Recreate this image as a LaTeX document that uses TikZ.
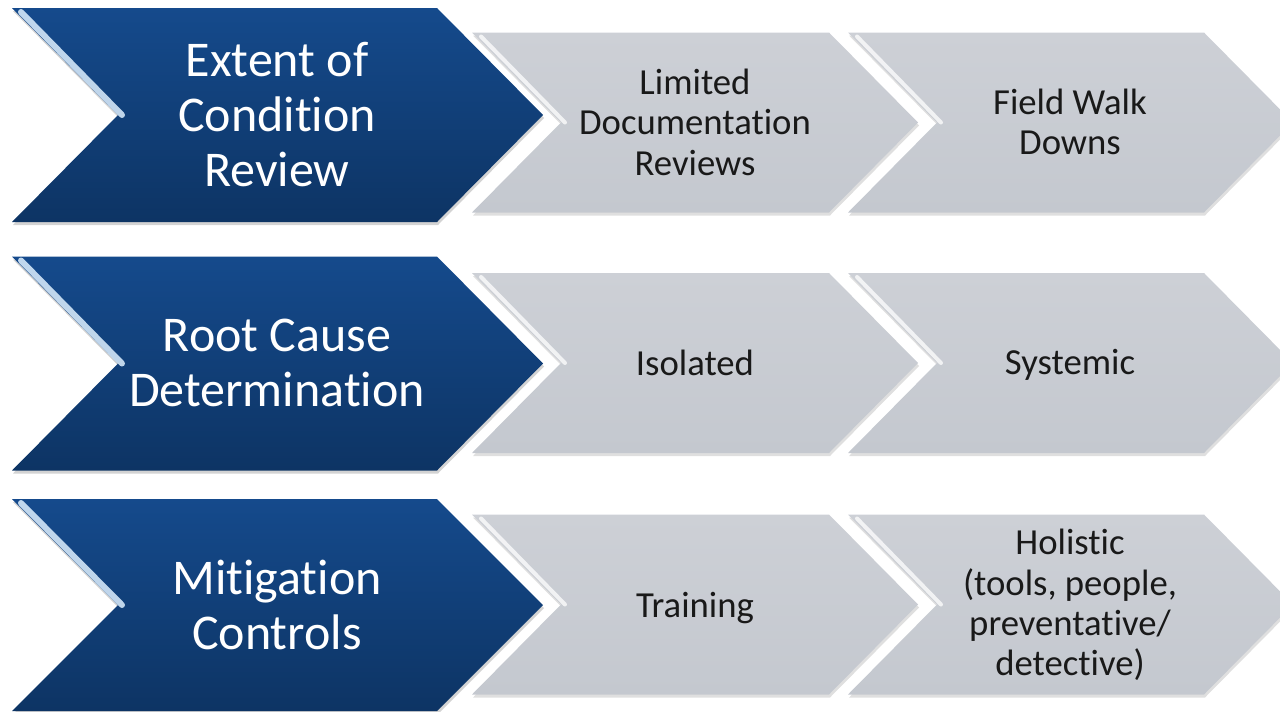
\documentclass[tikz,border=0pt]{standalone}
\usepackage{fontspec}
\setmainfont{Carlito}[Ligatures={NoCommon}]
\usetikzlibrary{shadows}
\definecolor{navytop}{RGB}{21,74,140}
\definecolor{navybot}{RGB}{13,52,100}
\definecolor{slatetop}{RGB}{205,208,214}
\definecolor{slatebot}{RGB}{196,200,207}
\definecolor{glow}{RGB}{222,240,255}

% chevron: style, left x, width to corner, centre y, half height, depth
\newcommand{\chev}[6]{%
  \path[#1] (#2,#4-#5) -- ++(#3,0) -- ++(#6,#5) -- ++(-#6,#5) -- ++(-#3,0) -- ++(#6,-#5) -- cycle;
  \draw[#1 glow] (#2+9,#4-#5+4) -- (#2+#6+4,#4);}

\begin{document}
\begin{tikzpicture}[x=1pt, y=-1pt,
                    lead/.style={top color=navytop, bottom color=navybot,
                      drop shadow={shadow xshift=1pt, shadow yshift=-3pt, opacity=.35}},
                    lead glow/.style={glow, line width=6pt, line cap=round, opacity=.85},
                    stage/.style={top color=slatetop, bottom color=slatebot,
                      drop shadow={shadow xshift=1pt, shadow yshift=-3pt, opacity=.25}},
                    stage glow/.style={white, line width=4pt, line cap=round, opacity=.75},
                    leadtxt/.style={align=center, text=white, font=\fontsize{50}{55}\selectfont},
                    stagetxt/.style={align=center, text=black!90, font=\fontsize{36.7}{40.4}\selectfont}]
  \useasboundingbox (0,0) rectangle (1280,712);
  \clip (0,0) rectangle (1280,712);

  % row 1
  \chev{lead}{12}{425}{115}{107}{106}
  \chev{stage}{472}{357}{122.5}{90}{89}
  \chev{stage}{848}{356}{122.5}{90}{89}
  \node[leadtxt] (extent) at (277,115) {Extent of\\Condition\\Review};
  \node[stagetxt] (limited) at (695,122) {Limited\\Documentation\\Reviews};
  \node[stagetxt] (field) at (1070,122) {Field Walk\\Downs};

  % row 2
  \chev{lead}{12}{425}{363.5}{107}{106}
  \chev{stage}{472}{357}{363}{90}{89}
  \chev{stage}{848}{356}{363}{90}{89}
  \node[leadtxt] (root) at (277,363) {Root Cause\\Determination};
  \node[stagetxt] (isolated) at (695,363) {Isolated};
  \node[stagetxt] (systemic) at (1070,365) {Systemic};

  % row 3
  \chev{lead}{12}{425}{605}{106}{106}
  \chev{stage}{472}{357}{604.5}{90}{89}
  \chev{stage}{848}{356}{604.5}{90}{89}
  \node[leadtxt] (mitigation) at (277,605) {Mitigation\\Controls};
  \node[stagetxt] (training) at (695,608) {Training};
  \node[stagetxt] (holistic) at (1070,605) {Holistic\\(tools, people,\\preventative/\\detective)};
\end{tikzpicture}
\end{document}
